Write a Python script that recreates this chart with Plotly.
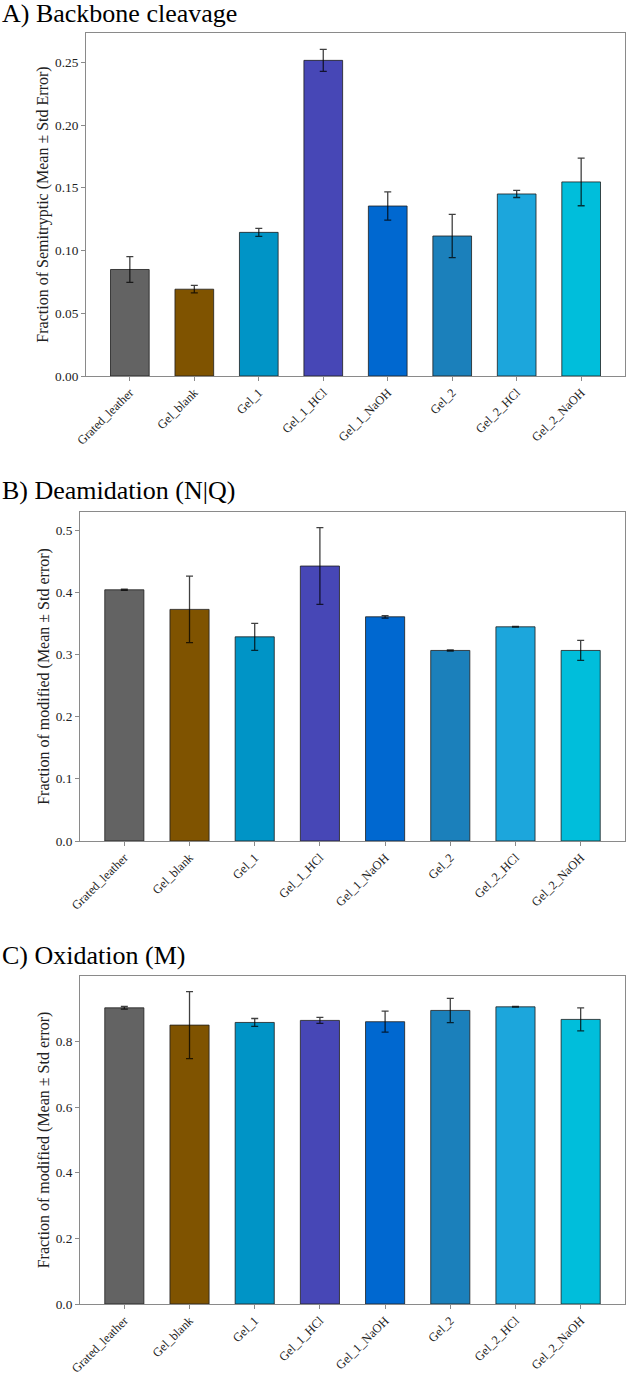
import plotly.graph_objects as go

categories = ["Grated_leather", "Gel_blank", "Gel_1", "Gel_1_HCl", "Gel_1_NaOH",
              "Gel_2", "Gel_2_HCl", "Gel_2_NaOH"]
colors = ["#636363", "#7f5300", "#0094c6", "#4747b6", "#0068d0",
          "#1b80bb", "#1ca6dc", "#00bedb"]

backbone_mean = [0.0849, 0.0692, 0.1145, 0.2516, 0.1355, 0.1116, 0.1451, 0.1547]
backbone_err = [0.0103, 0.0030, 0.0032, 0.0088, 0.0113, 0.0172, 0.0028, 0.0190]

deamid_mean = [0.4039, 0.3724, 0.3283, 0.4421, 0.3605, 0.3064, 0.3444, 0.3064]
deamid_err = [0.0010, 0.0535, 0.0217, 0.0617, 0.0020, 0.0010, 0.0006, 0.0161]

oxid_mean = [0.9023, 0.8497, 0.8578, 0.8640, 0.8600, 0.8944, 0.9054, 0.8670]
oxid_err = [0.0040, 0.1020, 0.0120, 0.0090, 0.0320, 0.0370, 0.0010, 0.0350]

panel_titles = ["A) Backbone cleavage", "B) Deamidation (N|Q)", "C) Oxidation (M)"]
y_titles = ["Fraction of Semitryptic (Mean ± Std Error)",
            "Fraction of modified (Mean ± Std error)",
            "Fraction of modified (Mean ± Std error)"]
y_ticks = [[0.0, 0.05, 0.10, 0.15, 0.20, 0.25],
           [0.0, 0.1, 0.2, 0.3, 0.4, 0.5],
           [0.0, 0.2, 0.4, 0.6, 0.8]]
y_ticktext = [["0.00", "0.05", "0.10", "0.15", "0.20", "0.25"],
              ["0.0", "0.1", "0.2", "0.3", "0.4", "0.5"],
              ["0.0", "0.2", "0.4", "0.6", "0.8"]]

W, H = 626, 1375
# pixel frames: (left, right, top, bottom)
frames = [(86, 625, 33, 376), (80, 625, 512, 841), (80, 625, 976, 1304)]
title_y = [14, 490, 955]

means = [backbone_mean, deamid_mean, oxid_mean]
errs = [backbone_err, deamid_err, oxid_err]

FONT = "Liberation Serif"
AX = "#8a8a8a"

fig = go.Figure()
layout = dict(width=W, height=H, margin=dict(l=0, r=0, t=0, b=0, autoexpand=False),
              paper_bgcolor="white", plot_bgcolor="white", showlegend=False,
              font=dict(family=FONT, size=13, color="#222"))
annotations = []
for i in range(3):
    sfx = "" if i == 0 else str(i + 1)
    top = max(m + e for m, e in zip(means[i], errs[i])) * 1.05
    fig.add_trace(go.Bar(
        x=categories, y=means[i], width=0.6,
        marker=dict(color=colors, line=dict(color="rgba(30,30,30,0.8)", width=1)),
        error_y=dict(type="data", array=errs[i], visible=True,
                     color="rgba(0,0,0,0.75)", thickness=1.3, width=3.5),
        xaxis="x" + sfx, yaxis="y" + sfx))
    l, r, t, b = frames[i]
    layout["xaxis" + sfx] = dict(
        domain=[l / W, r / W], anchor="y" + sfx, type="category", automargin=False,
        range=[-0.68, 7.68], tickangle=-45, showline=True, mirror=True,
        linecolor=AX, linewidth=1, ticks="outside", ticklen=3.5, tickcolor=AX,
        showgrid=False, tickfont=dict(family=FONT, size=12.4, color="#222"))
    layout["yaxis" + sfx] = dict(
        domain=[1 - b / H, 1 - t / H], anchor="x" + sfx, range=[0, top],
        automargin=False,
        tickvals=y_ticks[i], ticktext=y_ticktext[i], showline=True, mirror=True,
        linecolor=AX, linewidth=1, ticks="outside", ticklen=4, tickcolor=AX,
        showgrid=False, zeroline=False,
        tickfont=dict(family=FONT, size=13.3, color="#222"),
        title=dict(text=y_titles[i], font=dict(family=FONT, size=16, color="#222"),
                   standoff=2))
    annotations.append(dict(text=panel_titles[i], x=0, y=1 - title_y[i] / H,
                            xref="paper", yref="paper", xanchor="left",
                            yanchor="middle", showarrow=False,
                            font=dict(family=FONT, size=26, color="black")))
layout["annotations"] = annotations
fig.update_layout(**layout)
fig.write_html("out.html")
